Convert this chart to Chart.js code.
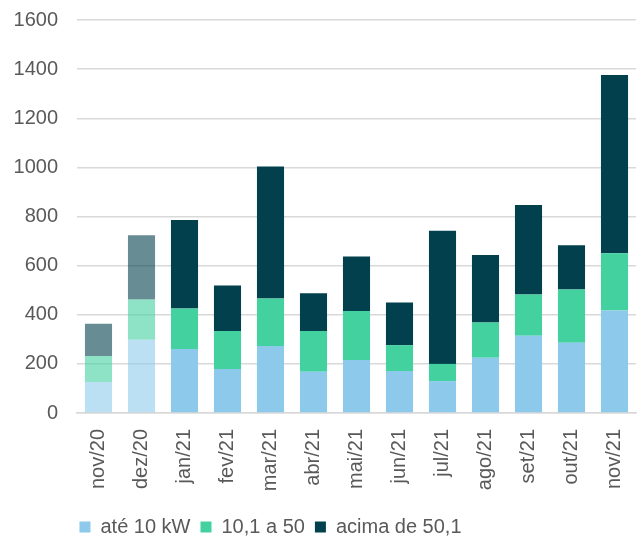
<!DOCTYPE html>
<html>
<head>
<meta charset="utf-8">
<script src="https://cdn.jsdelivr.net/npm/chart.js@4"></script>
<style>
  body { margin: 0; background: #fff; }
  #wrap { width: 642px; height: 539px; }
</style>
</head>
<body>
<div id="wrap"><canvas id="barChart"></canvas></div>
<script>
var meses = ["nov/20", "dez/20", "jan/21", "fev/21", "mar/21", "abr/21", "mai/21", "jun/21", "jul/21", "ago/21", "set/21", "out/21", "nov/21"];
var ate10 = [126, 298, 261, 179, 273, 168, 216, 171, 130, 225, 314, 286, 417];
var de10a50 = [106, 164, 164, 155, 193, 166, 199, 105, 70, 143, 168, 217, 233];
var acima50 = [131, 262, 361, 185, 538, 154, 222, 174, 542, 275, 365, 180, 726];
var faded = [true, true, false, false, false, false, false, false, false, false, false, false, false];

function cores(cheia, clara) {
    return faded.map(function(f) { return f ? clara : cheia; });
}

Chart.defaults.font.family = "'Liberation Sans', Arial, sans-serif";
Chart.defaults.color = '#595959';

// legenda um pouco deslocada para a esquerda, como no original
var moveLegenda = {
    id: 'moveLegenda',
    afterLayout: function(chart) {
        chart.legend.right -= 108;
    }
};

var ctx = document.getElementById("barChart").getContext('2d');
var myBarChart = new Chart(ctx, {
    type: 'bar',
    data: {
        labels: meses,
        datasets: [
            {
                label: "até 10 kW",
                data: ate10,
                backgroundColor: cores('#8DC9EB', 'rgba(141,201,235,0.6)'),
                legendColor: '#8DC9EB'
            },
            {
                label: "10,1 a 50",
                data: de10a50,
                backgroundColor: cores('#43D1A0', 'rgba(67,209,160,0.6)'),
                legendColor: '#43D1A0'
            },
            {
                label: "acima de 50,1",
                data: acima50,
                backgroundColor: cores('#01404C', 'rgba(1,64,76,0.6)'),
                legendColor: '#01404C'
            }
        ]
    },
    plugins: [moveLegenda],
    options: {
        responsive: true,
        maintainAspectRatio: false,
        animation: false,
        layout: { padding: { left: 13, right: 6, top: 20, bottom: -8 } },
        datasets: {
            bar: { categoryPercentage: 1, barPercentage: 0.63 }
        },
        scales: {
            x: {
                stacked: true,
                grid: { display: false, drawTicks: false },
                border: { color: '#D9D9D9', width: 1.5 },
                ticks: {
                    maxRotation: 90,
                    minRotation: 90,
                    padding: 16,
                    font: { size: 20 },
                    color: '#595959'
                },
                afterFit: function(scale) {
                    scale.paddingLeft = 0;
                    scale.paddingRight = 0;
                    scale.height = 94;
                }
            },
            y: {
                stacked: true,
                min: 0,
                max: 1600,
                grid: { color: '#D9D9D9', lineWidth: 1.5, drawTicks: false },
                border: { display: false },
                ticks: {
                    stepSize: 200,
                    padding: 19,
                    font: { size: 20 },
                    color: '#595959',
                    callback: function(v) { return String(v); }
                },
                afterFit: function(scale) {
                    scale.paddingTop = 0;
                    scale.paddingBottom = 0;
                    scale.width = 64;
                }
            }
        },
        plugins: {
            tooltip: { enabled: false },
            legend: {
                position: 'bottom',
                labels: {
                    boxWidth: 11,
                    boxHeight: 11,
                    padding: 10,
                    font: { size: 20 },
                    color: '#595959',
                    generateLabels: function(chart) {
                        return chart.data.datasets.map(function(ds, i) {
                            return {
                                text: ds.label,
                                fillStyle: ds.legendColor,
                                strokeStyle: ds.legendColor,
                                lineWidth: 0,
                                fontColor: '#595959',
                                datasetIndex: i
                            };
                        });
                    }
                }
            }
        }
    }
});
</script>
</body>
</html>
